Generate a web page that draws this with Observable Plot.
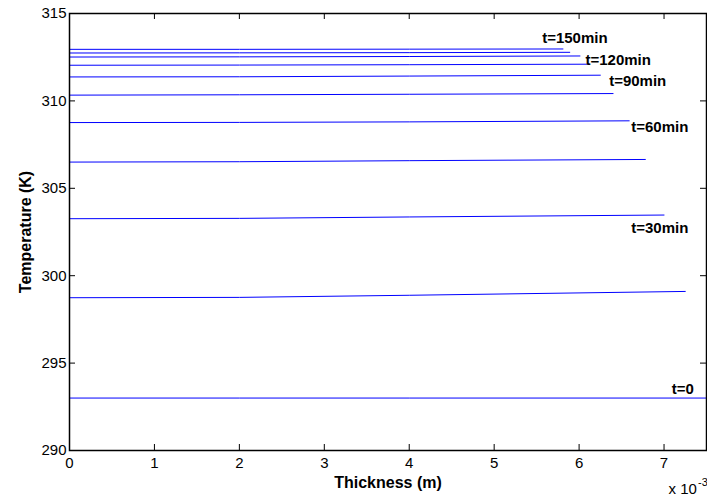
<!DOCTYPE html>
<html><head><meta charset="utf-8">
<script src="https://cdn.jsdelivr.net/npm/d3@7"></script>
<script src="https://cdn.jsdelivr.net/npm/@observablehq/plot@0.6"></script>
<style>body{margin:0;background:#fff} svg{display:block}</style>
</head><body><div id="chart"></div>
<script>
// Time of each temperature profile (min)
const times = [0, 15, 30, 45, 60, 75, 90, 105, 120, 135, 150];
// Thickness positions (x 10^-3 m) where each profile is sampled; last = end of profile
const endThickness = [7.5, 7.25, 7.0, 6.78, 6.59, 6.40, 6.25, 6.12, 6.01, 5.89, 5.81];
const tempAt0   = [293.0, 298.74, 303.26, 306.50, 308.76, 310.33, 311.37, 312.04, 312.51, 312.74, 312.95];
const tempAt2   = [293.0, 298.76, 303.28, 306.52, 308.77, 310.35, 311.38, 312.05, 312.52, 312.75, 312.95];
const tempAt4   = [293.0, 298.88, 303.36, 306.58, 308.80, 310.38, 311.42, 312.07, 312.54, 312.76, 312.96];
const tempAtEnd = [293.0, 299.10, 303.47, 306.65, 308.86, 310.42, 311.47, 312.10, 312.57, 312.78, 312.97];

// Curve annotations
const curveLabels = ["t=0", "t=30min", "t=60min", "t=90min", "t=120min", "t=150min"];
const curveLabelX = [7.22, 6.95, 6.95, 6.69, 6.46, 5.95];
const curveLabelY = [293.49, 302.74, 308.51, 311.14, 312.34, 313.6];

const xTicks = [0, 1, 2, 3, 4, 5, 6, 7];
const yTicks = [290, 295, 300, 305, 310, 315];

const rows = [];
times.forEach((t, i) => {
  rows.push({t, x: 0, T: tempAt0[i]});
  rows.push({t, x: 2, T: tempAt2[i]});
  rows.push({t, x: 4, T: tempAt4[i]});
  rows.push({t, x: endThickness[i], T: tempAtEnd[i]});
});
const labels = curveLabels.map((s, i) => ({s, x: curveLabelX[i], y: curveLabelY[i]}));

const W = 707, H = 495, mL = 69, mR = 1, mT = 13, mB = 45;
const fw = W - mL - mR, fh = H - mT - mB;
const font = "'Liberation Sans', Arial, Helvetica, sans-serif";

const chart = Plot.plot({
  width: W, height: H,
  marginLeft: mL, marginRight: mR, marginTop: mT, marginBottom: mB,
  style: {fontFamily: font, background: "#fff", overflow: "visible"},
  x: {domain: [0, 7.5]},
  y: {domain: [290, 315]},
  marks: [
    Plot.line(rows, {x: "x", y: "T", z: "t", stroke: "blue", strokeWidth: 1}),
    Plot.frame({stroke: "black", strokeWidth: 1.5}),
    // inward ticks on all four sides
    Plot.tickX(xTicks, {x: d => d, insetTop: fh - 6, stroke: "black", strokeWidth: 1}),
    Plot.tickX(xTicks, {x: d => d, insetBottom: fh - 6, stroke: "black", strokeWidth: 1}),
    Plot.tickY(yTicks, {y: d => d, insetRight: fw - 6, stroke: "black", strokeWidth: 1}),
    Plot.tickY(yTicks, {y: d => d, insetLeft: fw - 6, stroke: "black", strokeWidth: 1}),
    Plot.axisX({ticks: xTicks, tickSize: 0, tickPadding: 7, tickFormat: d => String(d), fontSize: 15, label: null, color: "black"}),
    Plot.axisY({ticks: yTicks, tickSize: 0, tickPadding: 3, tickFormat: d => String(d), fontSize: 15, label: null, color: "black"}),
    Plot.text(labels, {x: "x", y: "y", text: "s", fontSize: 15, fontWeight: "bold", fill: "black"}),
    Plot.text(["Thickness (m)"], {frameAnchor: "bottom", dy: 37, textAnchor: "middle", lineAnchor: "bottom", fontSize: 16, fontWeight: "bold", fill: "black", ariaLabel: "x-title"}),
    Plot.text(["Temperature (K)"], {frameAnchor: "left", dx: -44, textAnchor: "middle", lineAnchor: "middle", rotate: -90, fontSize: 16, fontWeight: "bold", fill: "black", ariaLabel: "y-title"}),
    Plot.text(["x 10"], {frameAnchor: "bottom-right", dx: -38, dy: 43, textAnchor: "start", lineAnchor: "bottom", fontSize: 15, fill: "black"}),
    Plot.text(["-3"], {frameAnchor: "bottom-right", dx: -8.5, dy: 35, textAnchor: "start", lineAnchor: "bottom", fontSize: 11, fill: "black"})
  ]
});
d3.select(chart).selectAll('g[aria-label="x-title"] text').style("letter-spacing", "1.4px");
d3.select(chart).selectAll('g[aria-label="y-title"] text').style("letter-spacing", "2.2px");
document.getElementById("chart").append(chart);
</script>
</body></html>
